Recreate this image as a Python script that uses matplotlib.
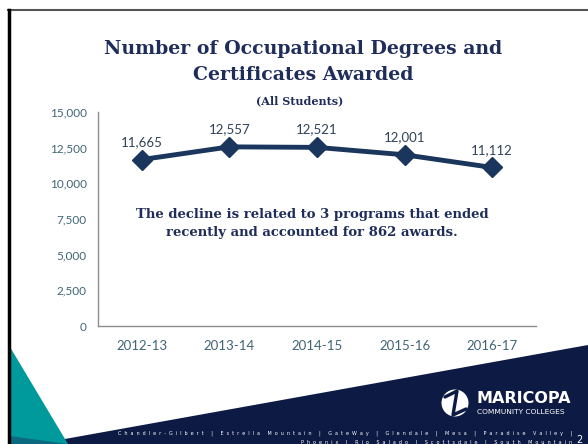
import numpy as np
import matplotlib.pyplot as plt
from matplotlib.patches import Polygon, Circle

years  = [ '2012-13' , '2013-14' , '2014-15' , '2015-16' , '2016-17' ]
awards = [ 11665 , 12557 , 12521 , 12001 , 11112 ]
yticks = [ 0 , 2500 , 5000 , 7500 , 10000 , 12500 , 15000 ]

navy   = '#1b365d'
title_c = '#1f2d5a'
tick_c = '#3f6577'
lab_c  = '#2f4257'

W , H = 588 , 444
fig = plt.figure( figsize=(W/100, H/100) , dpi=100 )

# background decoration, in pixel coordinates
bg = fig.add_axes( [0,0,1,1] )
bg.set_xlim( 0 , W )
bg.set_ylim( H , 0 )
bg.axis('off')

bg.add_patch( Polygon( [ (37,H) , (W,345) , (W,H) ] , closed=True , fc='#0d1a44' , ec='none' ) )
bg.add_patch( Polygon( [ (10,347) , (68,H) , (10,H) ] , closed=True , fc='#009a9c' , ec='none' ) )
bg.add_patch( Polygon( [ (10,436) , (68,H) , (10,H) ] , closed=True , fc='#0b6a80' , ec='none' ) )
bg.plot( [8,W] , [10,10] , color='#555555' , lw=1.5 )
bg.plot( [9,9] , [10,H] , color='black' , lw=2.5 )

# logo
bg.add_patch( Circle( (455,403) , 13.5 , fc='white' , ec='none' ) )
bg.plot( [445,457,453,466] , [397,391,415,409] , color='#0d1a44' , lw=2.4 , solid_capstyle='round' )
bg.text( 476 , 398 , 'MARICOPA' , color='white' , fontsize=11.5 , fontweight='bold' ,
         family='DejaVu Sans' , va='center' , ha='left' )
bg.text( 477 , 411.5 , 'COMMUNITY COLLEGES' , color='white' , fontsize=5.4 ,
         family='DejaVu Sans' , va='center' , ha='left' )

footer1 = 'Chandler-Gilbert | Estrella Mountain | GateWay | Glendale | Mesa | Paradise Valley |'
footer2 = 'Phoenix | Rio Salado | Scottsdale | South Mountain'
spaced = lambda s : '  '.join( s )
bg.text( 572 , 433 , spaced(footer1) , color='white' , fontsize=3.5 , ha='right' , va='center' , family='DejaVu Sans' )
bg.text( 572 , 442 , spaced(footer2) , color='white' , fontsize=3.5 , ha='right' , va='center' , family='DejaVu Sans' )
bg.text( 576 , 440 , '2' , color='white' , fontsize=7 , ha='left' , va='center' , family='DejaVu Sans' )

# titles
bg.text( 303 , 49 , 'Number of Occupational Degrees and' , color=title_c , fontsize=13.6 ,
         fontweight='bold' , family='DejaVu Serif' , ha='center' , va='center' )
bg.text( 303 , 75 , 'Certificates Awarded' , color=title_c , fontsize=13.6 ,
         fontweight='bold' , family='DejaVu Serif' , ha='center' , va='center' )
bg.text( 300 , 101 , '(All Students)' , color=title_c , fontsize=8 ,
         fontweight='bold' , family='DejaVu Serif' , ha='center' , va='center' )

# chart
ax = fig.add_axes( [ 98/W , 1-326/H , 438/W , 214/H ] )
x = np.arange( len(years) )
ax.plot( x , awards , color=navy , lw=3.5 , marker='D' , markersize=10.5 , zorder=3 )
for xi , yi in zip( x , awards ):
    ax.annotate( f'{yi:,}' , (xi,yi) , xytext=(0,8.5) , textcoords='offset points' ,
                 ha='center' , va='bottom' , color=lab_c , fontsize=9.5 , family='Lato' )

ax.set_xlim( -0.5 , len(years)-0.5 )
ax.set_ylim( 0 , 15000 )
ax.set_yticks( yticks )
ax.set_yticklabels( [ f'{v:,}' for v in yticks ] )
ax.set_xticks( x )
ax.set_xticklabels( years )
ax.tick_params( axis='y' , length=0 , pad=8 , colors=tick_c , labelsize=8.5 )
ax.tick_params( axis='x' , length=0 , pad=10 , colors=tick_c , labelsize=9.5 )
for lbl in ax.get_xticklabels() + ax.get_yticklabels():
    lbl.set_family('Lato')

for s in ['top','right']:
    ax.spines[s].set_visible(False)
for s in ['left','bottom']:
    ax.spines[s].set_color('#8c8c8c')
    ax.spines[s].set_linewidth(1)
ax.patch.set_alpha(0)

bg.text( 312 , 223 , 'The decline is related to 3 programs that ended\nrecently and accounted for 862 awards.' ,
         color=title_c , fontsize=9.5 , fontweight='bold' , family='DejaVu Serif' ,
         ha='center' , va='center' , linespacing=1.5 )

fig.savefig( 'out.png' , dpi=100 )
